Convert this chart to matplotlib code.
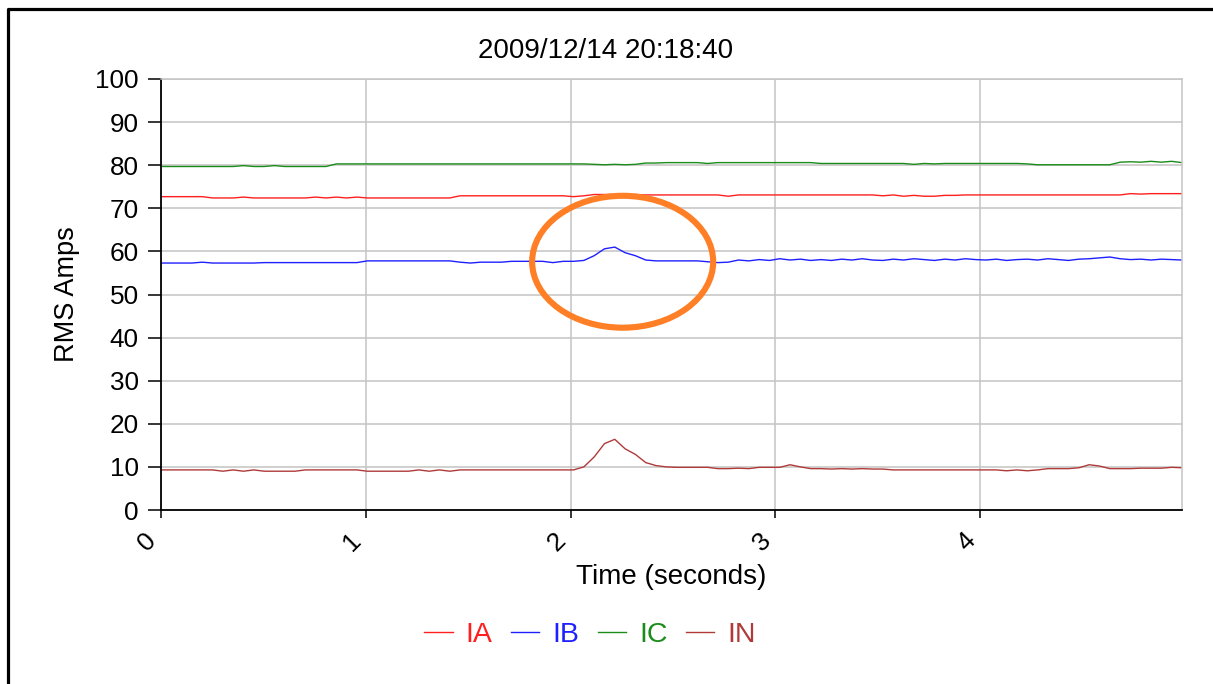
import matplotlib
matplotlib.use("Agg")
import matplotlib.pyplot as plt
from matplotlib.patches import Ellipse
from matplotlib.lines import Line2D
import numpy as np

plt.rcParams['font.family'] = ['Liberation Sans', 'DejaVu Sans']

title = "2009/12/14 20:18:40"

# samples every ~0.05 s
t = np.linspace(0, 4.985, 100)

ia = [72.7, 72.7, 72.7, 72.7, 72.7, 72.4, 72.4, 72.4, 72.6, 72.4,
      72.4, 72.4, 72.4, 72.4, 72.4, 72.6, 72.4, 72.6, 72.4, 72.6,
      72.4, 72.4, 72.4, 72.4, 72.4, 72.4, 72.4, 72.4, 72.4, 72.9,
      72.9, 72.9, 72.9, 72.9, 72.9, 72.9, 72.9, 72.9, 72.9, 72.9,
      72.7, 72.9, 73.2, 73.2, 73.2, 73.2, 73.2, 73.1, 73.1, 73.1,
      73.1, 73.1, 73.1, 73.1, 73.1, 72.8, 73.1, 73.1, 73.1, 73.1,
      73.1, 73.1, 73.1, 73.1, 73.1, 73.1, 73.1, 73.1, 73.1, 73.1,
      72.9, 73.1, 72.8, 73.0, 72.8, 72.8, 73.0, 73.0, 73.1, 73.1,
      73.1, 73.1, 73.1, 73.1, 73.1, 73.1, 73.1, 73.1, 73.1, 73.1,
      73.1, 73.1, 73.1, 73.1, 73.4, 73.3, 73.4, 73.4, 73.4, 73.4]

ib = [57.3, 57.3, 57.3, 57.3, 57.5, 57.3, 57.3, 57.3, 57.3, 57.3,
      57.4, 57.4, 57.4, 57.4, 57.4, 57.4, 57.4, 57.4, 57.4, 57.4,
      57.8, 57.8, 57.8, 57.8, 57.8, 57.8, 57.8, 57.8, 57.8, 57.5,
      57.3, 57.5, 57.5, 57.5, 57.7, 57.7, 57.7, 57.7, 57.4, 57.7,
      57.7, 57.9, 59.0, 60.6, 61.0, 59.7, 59.0, 58.0, 57.8, 57.8,
      57.8, 57.8, 57.8, 57.6, 57.4, 57.5, 58.0, 57.8, 58.1, 57.9,
      58.3, 58.0, 58.2, 57.9, 58.1, 57.9, 58.2, 58.0, 58.3, 58.0,
      57.9, 58.2, 58.0, 58.3, 58.1, 57.9, 58.2, 58.0, 58.3, 58.1,
      58.0, 58.2, 57.9, 58.1, 58.2, 58.0, 58.3, 58.1, 57.9, 58.2,
      58.3, 58.5, 58.7, 58.3, 58.1, 58.2, 58.0, 58.2, 58.1, 58.0]

ic = [79.7, 79.7, 79.7, 79.7, 79.7, 79.7, 79.7, 79.7, 79.9, 79.7,
      79.7, 79.9, 79.7, 79.7, 79.7, 79.7, 79.7, 80.3, 80.3, 80.3,
      80.3, 80.3, 80.3, 80.3, 80.3, 80.3, 80.3, 80.3, 80.3, 80.3,
      80.3, 80.3, 80.3, 80.3, 80.3, 80.3, 80.3, 80.3, 80.3, 80.3,
      80.3, 80.3, 80.2, 80.1, 80.2, 80.1, 80.2, 80.5, 80.5, 80.6,
      80.6, 80.6, 80.6, 80.4, 80.6, 80.6, 80.6, 80.6, 80.6, 80.6,
      80.6, 80.6, 80.6, 80.6, 80.4, 80.4, 80.4, 80.4, 80.4, 80.4,
      80.4, 80.4, 80.4, 80.2, 80.4, 80.3, 80.4, 80.4, 80.4, 80.4,
      80.4, 80.4, 80.4, 80.4, 80.3, 80.1, 80.1, 80.1, 80.1, 80.1,
      80.1, 80.1, 80.1, 80.7, 80.8, 80.7, 80.9, 80.7, 80.9, 80.6]

i_n = [9.3, 9.3, 9.3, 9.3, 9.3, 9.3, 9.0, 9.3, 9.0, 9.3,
       9.0, 9.0, 9.0, 9.0, 9.3, 9.3, 9.3, 9.3, 9.3, 9.3,
       9.0, 9.0, 9.0, 9.0, 9.0, 9.3, 9.0, 9.3, 9.0, 9.3,
       9.3, 9.3, 9.3, 9.3, 9.3, 9.3, 9.3, 9.3, 9.3, 9.3,
       9.3, 10.0, 12.3, 15.4, 16.4, 14.2, 12.9, 11.0, 10.3, 10.0,
       9.9, 9.9, 9.9, 9.9, 9.6, 9.6, 9.7, 9.6, 9.9, 9.9,
       9.9, 10.5, 10.0, 9.6, 9.6, 9.5, 9.6, 9.5, 9.6, 9.5,
       9.5, 9.3, 9.3, 9.3, 9.3, 9.3, 9.3, 9.3, 9.3, 9.3,
       9.3, 9.3, 9.1, 9.3, 9.1, 9.3, 9.6, 9.6, 9.6, 9.8,
       10.5, 10.2, 9.6, 9.6, 9.6, 9.7, 9.7, 9.7, 9.9, 9.8]

names = ["IA", "IB", "IC", "IN"]
colors = ["#ff1f1f", "#1f1fff", "#1a8c1a", "#b03a3a"]

# orange circle drawn over the IB bump
circ_center = (2.254, 57.6)
circ_w, circ_h = 0.884, 30.6

fig = plt.figure(figsize=(12.13, 6.84), dpi=100)
ax = fig.add_axes([161/1213, 1-510/684, (1182-161)/1213, (510-79)/684])

for y, name, c in zip([ia, ib, ic, i_n], names, colors):
    ax.plot(t, y, color=c, lw=1.0, label=name)

ax.add_patch(Ellipse(circ_center, circ_w, circ_h, fill=False,
                     edgecolor="#ff7f27", lw=4.4, zorder=5))

ax.set_xlim(0, 4.985)
ax.set_ylim(0, 100)
ax.set_yticks(range(0, 101, 10))
ax.set_xticks([0, 1, 2, 3, 4])
ax.grid(True, color="#c4c4c4", lw=1.1)
ax.set_axisbelow(True)
for s in ["top", "right"]:
    ax.spines[s].set_color("#c4c4c4")
    ax.spines[s].set_linewidth(1.1)
for s in ["left", "bottom"]:
    ax.spines[s].set_linewidth(1.3)
ax.tick_params(axis="y", length=9.5, width=1.1, labelsize=18.8, pad=6.5)
ax.tick_params(axis="x", length=6, width=1.1, labelsize=18.8, pad=7)
plt.setp(ax.get_xticklabels(), rotation=45, ha="right", va="top")

ax.set_xlabel("Time (seconds)", fontsize=20, labelpad=6)
ax.set_ylabel("RMS Amps", fontsize=19.5, labelpad=11)
fig.text(606/1213, 1-51/684, title, fontsize=20, ha="center", va="center")

fig.legend(loc="center", bbox_to_anchor=(590/1213, 1-635/684), ncol=4,
           frameon=False, fontsize=20.5, handlelength=1.0, handletextpad=0.45,
           columnspacing=0.65, labelcolor="linecolor")

# partial page frame
fig.add_artist(Line2D([8/1213, 8/1213, 1.0], [0.0, 1-9/684, 1-9/684],
                      transform=fig.transFigure, color="black", lw=2.3))

fig.savefig("out.png", dpi=100)
